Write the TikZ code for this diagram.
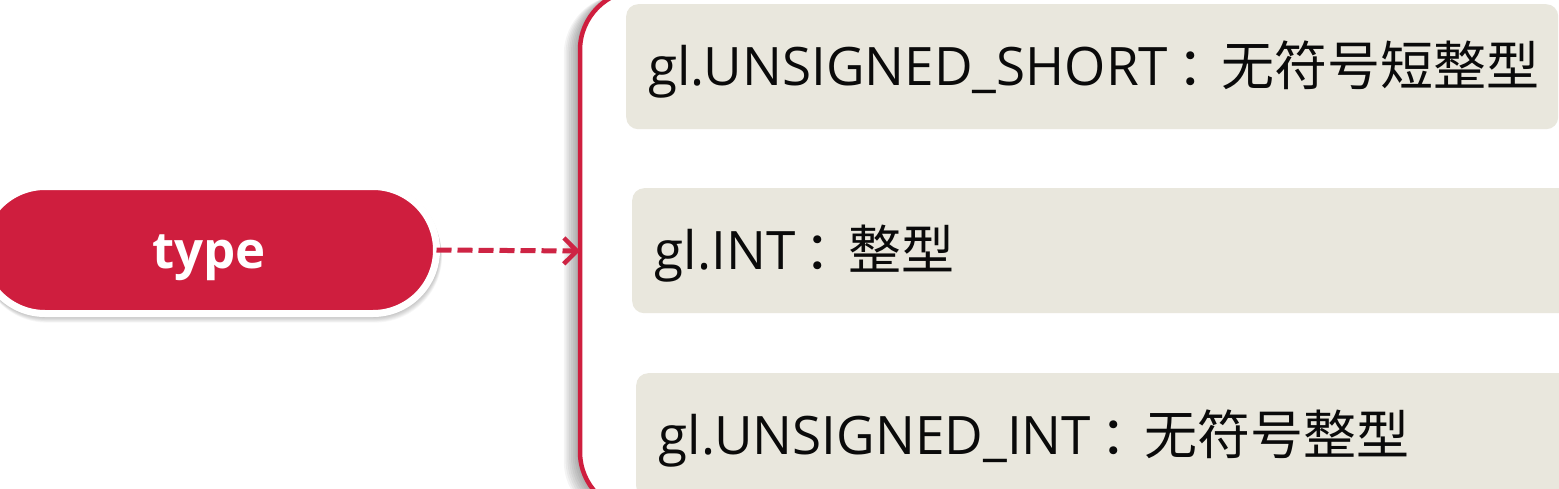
\documentclass[tikz,border=0pt]{standalone}
\usepackage{fontspec}
\setmainfont{Open Sans}
\newfontfamily\cjk{Noto Sans CJK SC}
\usetikzlibrary{arrows.meta}
\definecolor{pillred}{RGB}{207,30,62}
\definecolor{boxbg}{RGB}{233,231,221}
\definecolor{arrowred}{RGB}{206,36,68}
\definecolor{txt}{RGB}{10,10,10}
\newcommand\sepcolon{{\cjk\kern9pt：\kern-9pt}}
\begin{document}
\begin{tikzpicture}[x=1pt,y=-1pt,
  pill/.style={fill=pillred, draw=white, line width=7pt, rounded corners=63.5pt,
    minimum width=455pt, minimum height=127pt, inner sep=0pt, outer sep=0pt,
    text=white, font=\fontsize{51pt}{56pt}\selectfont\bfseries,
    text height=37pt, text depth=0pt},
  panel/.style={fill=white, draw=pillred, line width=4.5pt, rounded corners=60pt,
    minimum width=1200pt, minimum height=522pt, inner sep=0pt, outer sep=0pt,
    anchor=north west},
  itembox/.style={fill=boxbg, rounded corners=12pt, anchor=north west,
    minimum height=125pt, inner xsep=22pt, inner ysep=0pt, align=left,
    text=txt, font=\fontsize{53pt}{60pt}\selectfont,
    text height=38pt, text depth=0pt},
  link/.style={arrowred, line width=5pt, dash pattern=on 15pt off 6pt,
    -{Straight Barb[length=13pt, width=26pt, line width=4.5pt]}}
]
\useasboundingbox (0,0) rectangle (1559,488);
\clip (0,0) rectangle (1559,488);
\fill[white] (0,0) rectangle (1559,488);

% soft shadow of the panel (left side)
\foreach \i in {1,...,9}
  \fill[black, fill opacity=0.045, rounded corners=60pt]
    (580-1.8*\i,-10+0.5*\i) rectangle (1780,512+\i);
\node[panel] (panel) at (580,-10) {};

% soft shadow of the pill
\foreach \i in {1,...,7}
  \fill[black, fill opacity=0.03, rounded corners=67pt]
    (-22+0.3*\i,183+\i) rectangle (440+0.3*\i,317+0.8*\i);
\node[pill] (type) at (209,250) {type};

\node[itembox, minimum width=932pt, text width=888pt] (b1) at (626,4)
  {gl.UNSIGNED\_SHORT\sepcolon{\cjk 无符号短整型}};
\node[itembox, minimum width=970pt, text width=925pt] (b2) at (632,188)
  {gl.INT\sepcolon{\cjk 整型}};
\node[itembox, minimum width=970pt, text width=925pt] (b3) at (636,373)
  {gl.UNSIGNED\_INT\sepcolon{\cjk 无符号整型}};

\draw[link] (type.east) -- (panel.west);
\end{tikzpicture}
\end{document}
